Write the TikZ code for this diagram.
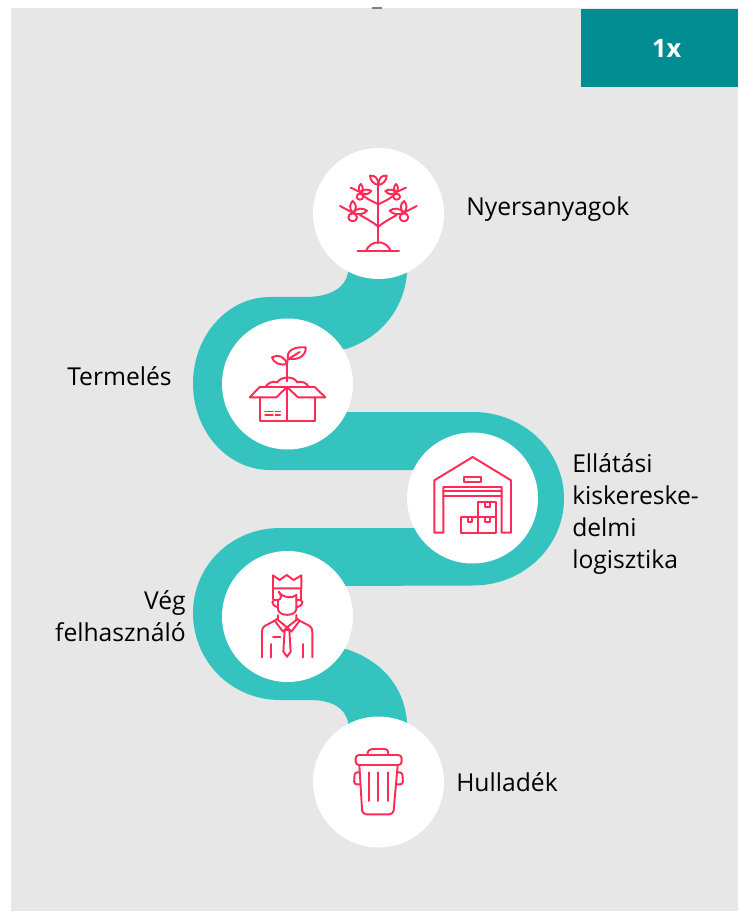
\documentclass[tikz,border=0pt]{standalone}
\usepackage{fontspec}
\setmainfont{Open Sans}
\definecolor{bggrey}{HTML}{E7E7E7}
\definecolor{ribbon}{HTML}{34C3BE}
\definecolor{tealbox}{HTML}{008C90}
\definecolor{iconred}{HTML}{FF2A55}
\tikzset{
  disc/.style={circle,fill=white,draw=none,minimum size=98.25pt,inner sep=0pt},
  lbl/.style={font=\fontsize{18.5pt}{24pt}\selectfont,text=black,inner sep=0pt},
  icon/.style={draw=iconred,line width=1.45pt,line join=round,line cap=round},
  zoomed/.style={x=.25pt,y=-.25pt}
}
\newcommand{\treehalf}{%
  \draw[icon] (205,120) .. controls (190,118) and (180,105) .. (180,92) .. controls (195,90) and (205,100) .. (205,120);
  \draw[icon] (205,178) .. controls (190,170) and (175,165) .. (160,152);
  \draw[icon] (122,128) -- (152,142);
  \draw[icon] (150,155) ellipse[x radius=10,y radius=9];
  \draw[icon] (152,142) .. controls (143,133) and (146,122) .. (152,117) .. controls (160,125) and (160,135) .. (152,142) .. controls (162,132) and (172,132) .. (184,138) .. controls (175,150) and (163,150) .. (152,142);
  \draw[icon] (205,245) .. controls (190,232) and (170,222) .. (150,210);
  \draw[icon] (90,183) -- (128,203);
  \draw[icon] (128,217) ellipse[x radius=13,y radius=12];
  \draw[icon] (128,203) .. controls (116,190) and (120,176) .. (128,168) .. controls (140,178) and (142,192) .. (128,203) .. controls (142,188) and (158,188) .. (171,197) .. controls (160,210) and (142,210) .. (128,203);
}
\begin{document}
\begin{tikzpicture}[x=.75pt,y=-.75pt]
\useasboundingbox (0,0) rectangle (738,912);
\fill[white] (0,0) rectangle (738,912);
\fill[bggrey] (11,8.5) rectangle (738,911);
\fill[gray] (372,7) rectangle (382,9);
\node[fill=tealbox,draw=none,minimum width=117.75pt,minimum height=58.5pt,inner sep=0pt,anchor=north west,text=white,font=\fontsize{19pt}{22pt}\selectfont\bfseries] (badge) at (581,9) {\hspace*{10.5pt}1x};
% ribbon
\fill[ribbon] (348,260) -- (348,273)
  .. controls (345,288) and (330,297) .. (305,297)
  -- (270,297)
  .. controls (227.5,297) and (193,335.5) .. (193,383.5)
  .. controls (193,431.5) and (227.5,470) .. (270,470)
  -- (440,470) -- (440,528) -- (280,528)
  .. controls (231,528) and (193,566) .. (193,613)
  .. controls (193,661) and (231,700) .. (280,700)
  -- (310,700)
  .. controls (332,700) and (345,708) .. (348,722)
  -- (348,740) -- (407,740) -- (407,722)
  .. controls (404,685) and (380,660) .. (346,649)
  -- (330,649) -- (330,586) -- (473,585.5)
  .. controls (523,585.5) and (564,547) .. (564,498.5)
  .. controls (564,450) and (523,412) .. (473,412)
  -- (330,412) -- (330,349) -- (346,349)
  .. controls (380,338) and (404,310) .. (407,273)
  -- (407,260) -- cycle;
% discs
\node[disc] (n1) at (378.5,213.5) {};
\node[disc] (n2) at (287.5,384) {};
\node[disc] (n3) at (472.5,498) {};
\node[disc] (n4) at (287.5,616.5) {};
\node[disc] (n5) at (378.5,782) {};
% labels
\node[lbl,anchor=base west] (t1) at (466,216) {Nyersanyagok};
\node[lbl,anchor=base west] (t2) at (67,385) {Termelés};
\node[lbl,anchor=west,align=left] (t3) at (572,514) {Ellátási\\kiskereske-\\delmi\\logisztika};
\node[lbl,anchor=east,align=right] (t4) at (186,616) {Vég\\felhasználó};
\node[lbl,anchor=base west] (t5) at (456,791) {Hulladék};
% tree icon
\begin{scope}[shift={(310,145)},zoomed]
  \treehalf
  \begin{scope}[shift={(410,0)},xscale=-1]
    \treehalf
  \end{scope}
  \draw[icon] (205,120) -- (205,295);
  \draw[icon] (143,319) -- (267,319);
  \draw[icon] (167,319) .. controls (175,300) and (190,292) .. (205,292) .. controls (220,292) and (235,300) .. (243,319);
\end{scope}
% box icon
\begin{scope}[shift={(218,318)},zoomed]
  \draw[icon] (125,238) -- (125,310) -- (290,310) -- (290,238);
  \draw[icon] (207,207) -- (207,310);
  \draw[icon] (95,238) -- (125,207) -- (207,207) -- (175,238) -- cycle;
  \draw[icon] (207,207) -- (290,207) -- (322,238) -- (240,238) -- cycle;
  \draw[icon] (143,207) .. controls (148,195) and (165,188) .. (178,193) .. controls (185,178) and (225,170) .. (238,193) .. controls (250,188) and (268,195) .. (272,207);
  \draw[icon] (207,190) -- (207,140) .. controls (207,132) and (208,128) .. (210,122);
  \draw[icon] (207,138) .. controls (190,144) and (165,135) .. (162,118) .. controls (180,108) and (200,115) .. (207,138);
  \draw[icon] (210,122) .. controls (205,100) and (225,85) .. (263,88) .. controls (265,110) and (245,128) .. (210,122);
  \draw[icon] (216,120) -- (245,102);
  \draw[icon,line width=1pt] (141,281) -- (165,281) (172,281) -- (187,281) (141,291) -- (165,291) (172,291) -- (187,291);
\end{scope}
% warehouse icon
\begin{scope}[shift={(405,432)},zoomed]
  \draw[icon] (88,302) -- (88,145) -- (203,75) -- (318,145) -- (318,302) -- (290,302) -- (290,165) -- (115,165) -- (115,302) -- cycle;
  \draw[icon] (115,178) -- (290,178) (115,192) -- (290,192);
  \draw[icon] (178,135) rectangle (228,150);
  \draw[icon] (168,255) rectangle (220,302);
  \draw[icon] (220,255) rectangle (273,302);
  \draw[icon] (220,210) rectangle (273,255);
  \draw[icon] (188,255) -- (188,270) -- (202,270) -- (202,255);
  \draw[icon] (240,255) -- (240,270) -- (255,270) -- (255,255);
  \draw[icon] (240,210) -- (240,225) -- (255,225) -- (255,210);
\end{scope}
% person icon
\begin{scope}[shift={(218,550)},zoomed]
  \draw[icon] (165,115) -- (165,76) -- (185,90) -- (206,75) -- (227,90) -- (250,76) -- (250,115) -- cycle;
  \draw[icon] (165,115) -- (165,148) (250,115) -- (250,148);
  \draw[icon] (180,150) .. controls (192,148) and (190,135) .. (182,125) .. controls (195,145) and (225,145) .. (235,135) -- (235,150);
  \draw[icon] (180,150) -- (180,178) .. controls (183,200) and (232,200) .. (235,178) -- (235,150);
  \draw[icon] (180,150) .. controls (160,145) and (155,165) .. (180,172);
  \draw[icon] (235,150) .. controls (258,145) and (262,165) .. (235,172);
  \draw[icon] (180,195) -- (180,210) -- (207,232) -- (235,210) -- (235,195);
  \draw[icon] (180,205) -- (170,212) -- (195,245) -- (207,232) -- (220,245) -- (245,212) -- (235,205);
  \draw[icon] (170,212) -- (140,228) .. controls (134,232) and (132,238) .. (132,245) -- (132,322);
  \draw[icon] (245,212) -- (275,228) .. controls (281,232) and (283,238) .. (283,245) -- (283,322);
  \draw[icon] (200,240) -- (214,240) -- (218,305) -- (207,320) -- (196,305) -- cycle;
  \draw[icon] (165,262) -- (187,262);
  \draw[icon] (158,282) -- (158,322) (256,282) -- (256,322);
\end{scope}
% trash icon
\begin{scope}[shift={(310,715)},zoomed]
  \draw[icon,rounded corners=2.5pt] (137,150) -- (137,120) -- (275,120) -- (275,150) -- cycle;
  \draw[icon] (172,120) .. controls (172,107) and (180,102) .. (190,102) -- (222,102) .. controls (232,102) and (235,107) .. (235,120);
  \draw[icon,rounded corners=3pt] (148,150) -- (157,298) -- (250,298) -- (263,150);
  \draw[icon] (176,172) -- (176,258) (205,172) -- (205,258) (234,172) -- (234,258);
  \draw[icon,rounded corners=2pt] (149,172) -- (134,172) -- (132,208) -- (151,208);
  \draw[icon,rounded corners=2pt] (262,172) -- (277,172) -- (279,208) -- (260,208);
\end{scope}
\end{tikzpicture}
\end{document}
